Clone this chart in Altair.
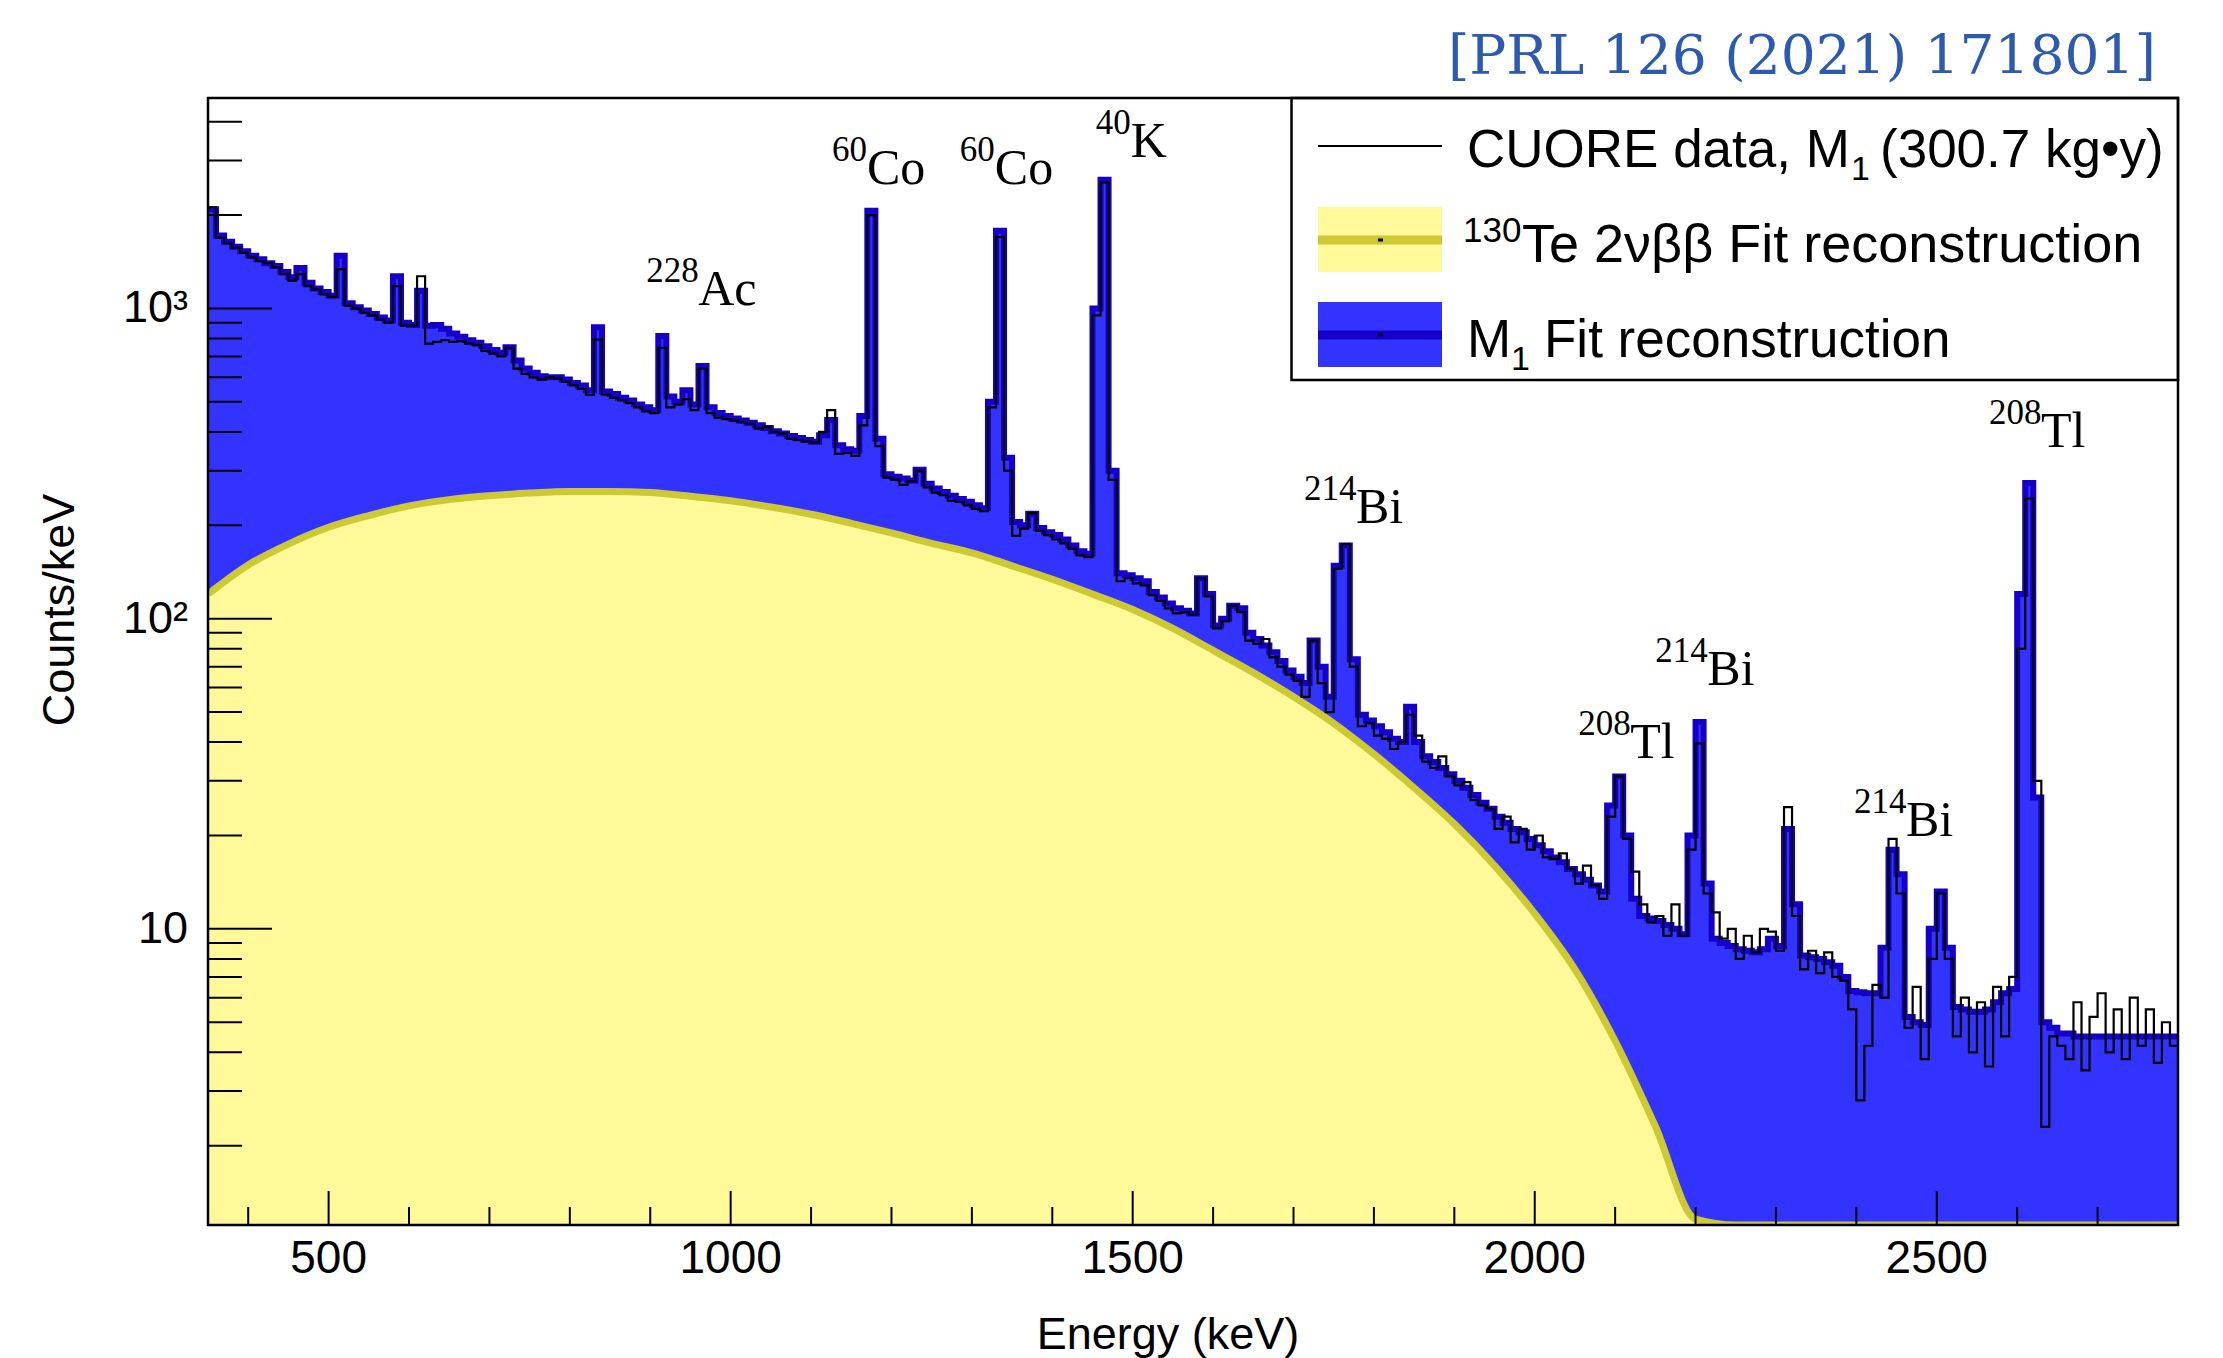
import altair as alt
import pandas as pd

# ---------------- data ----------------
# lower edges of 10 keV bins, 350 ... 2790 keV
bin_low_keV = list(range(350, 2800, 10))

fit_total = (
    [2090, 1720, 1640, 1580, 1530, 1480, 1440, 1400, 1370, 1310]
    + [1260, 1350, 1210, 1160, 1130, 1100, 1480, 1040, 1010, 985]
    + [960, 935, 915, 1270, 900, 885, 1140, 880, 885, 860]
    + [830, 810, 790, 775, 755, 735, 720, 750, 680, 640]
    + [620, 605, 600, 600, 590, 575, 565, 545, 870, 540]
    + [530, 515, 505, 490, 480, 470, 815, 520, 500, 545]
    + [490, 652, 480, 460, 450, 442, 435, 428, 420, 412]
    + [402, 395, 388, 382, 377, 372, 390, 437, 362, 352]
    + [348, 450, 2065, 380, 292, 287, 283, 279, 302, 272]
    + [263, 256, 249, 243, 238, 232, 227, 500, 1780, 330]
    + [205, 200, 218, 196, 190, 186, 180, 172, 165, 162]
    + [1000, 2600, 300, 140, 138, 135, 132, 122, 117, 112]
    + [108, 106, 104, 135, 120, 95, 100, 110, 108, 90]
    + [86, 82, 78, 73, 68, 65, 62, 85, 70, 56]
    + [148, 172, 74, 49, 47, 45, 43, 41, 40, 52]
    + [40, 36, 34.5, 33, 31.5, 30, 28.5, 27, 25.5, 24.4]
    + [23, 22, 21, 20.5, 19.5, 18.6, 17.8, 17, 16.4, 15.6]
    + [15, 14.4, 13.8, 13.2, 25, 31, 20, 12.5, 11, 10.8]
    + [10.6, 10.3, 10, 9.6, 20, 46.4, 14, 9.3, 9, 8.8]
    + [8.6, 8.5, 8.4, 8.6, 9.3, 8.8, 21, 12, 8.2, 8.1]
    + [8, 7.8, 7.6, 7, 6.3, 6.25, 6.2, 6.2, 8.7, 18]
    + [15, 5.2, 5, 4.9, 10, 13.2, 8.7, 5.6, 5.5, 5.4]
    + [5.4, 5.5, 5.8, 6.2, 6.4, 120, 274, 26.5, 5.0, 4.8]
    + [4.6, 4.6, 4.5, 4.5, 4.5, 4.5, 4.5, 4.5, 4.5, 4.5]
    + [4.5, 4.5, 4.5, 4.5, 4.5]
)

data_counts = (
    [2120, 1690, 1620, 1570, 1510, 1460, 1420, 1400, 1360, 1290]
    + [1230, 1290, 1180, 1150, 1110, 1090, 1340, 1020, 1000, 970]
    + [950, 920, 900, 1180, 880, 880, 1270, 770, 780, 790]
    + [780, 785, 770, 760, 730, 715, 700, 747, 640, 615]
    + [600, 590, 600, 595, 580, 565, 550, 527, 794, 527]
    + [515, 505, 495, 480, 466, 460, 747, 480, 490, 510]
    + [470, 640, 460, 445, 440, 435, 430, 425, 410, 415]
    + [400, 395, 380, 376, 372, 370, 400, 470, 340, 342]
    + [335, 420, 2000, 360, 285, 280, 270, 277, 300, 265]
    + [255, 250, 240, 238, 232, 226, 222, 480, 1700, 300]
    + [185, 195, 219, 192, 186, 180, 175, 168, 160, 158]
    + [950, 2550, 280, 132, 135, 130, 128, 119, 114, 108]
    + [104, 105, 103, 135, 118, 93, 98, 110, 105, 85]
    + [83, 86, 75, 70, 66, 63, 56, 85, 62, 50]
    + [145, 174, 70, 45, 46, 42, 41, 38, 40, 49]
    + [42, 34.6, 33, 36, 31, 29, 29.7, 26, 25, 24.4]
    + [21, 23, 19, 21, 18, 20, 17, 16.8, 17.5, 15.6]
    + [14, 16, 13.8, 12.5, 23, 31, 19.5, 15.3, 12, 10.5]
    + [11, 9.5, 12, 9.5, 18, 39.6, 13, 11.3, 9.3, 10]
    + [8, 9.5, 8.4, 10, 9.8, 8.5, 24.7, 11, 7.4, 8.5]
    + [7.2, 8.4, 7, 6.8, 5.5, 2.8, 4.2, 6.6, 6, 19.5]
    + [13, 4.8, 6.5, 3.8, 8, 13, 8, 4.5, 6, 4.0]
    + [5.8, 3.6, 6.5, 4.5, 7, 80, 244, 30, 2.3, 4.5]
    + [4.2, 3.8, 5.8, 3.5, 5.2, 6.2, 4.0, 5.5, 3.8, 6]
    + [4.2, 5.5, 3.7, 5, 4.2]
)

# 130Te 2nbb fit component (smooth)
tbb_keV = [350, 400, 450, 500, 550, 600, 650, 700, 750, 800, 850, 900, 950, 1000,
           1050, 1100, 1150, 1200, 1250, 1300, 1350, 1400, 1450, 1500, 1550, 1600,
           1650, 1700, 1750, 1800, 1850, 1900, 1950, 2000, 2050, 2100, 2150, 2200,
           2250, 2800]
tbb_counts = [120, 149, 174, 197, 215, 231, 242, 249, 254, 257, 257, 255, 248, 240,
              229, 217, 203, 189, 175, 163, 148, 134, 120, 107, 93, 79,
              67, 56, 46, 36.6, 28.5, 21.8, 16, 11.2, 7.4, 4.35, 2.31, 1.16,
              0.5, 0.5]

# peak annotations
peak_mass = ["228", "60", "60", "40", "214", "208", "214", "214", "208"]
peak_elem = ["Ac", "Co", "Co", "K", "Bi", "Tl", "Bi", "Bi", "Tl"]
peak_label_keV = [895, 1126, 1285, 1454, 1713, 2054, 2150, 2397, 2565]
peak_label_counts = [1026, 2518, 2518, 3076, 203, 35.6, 61, 19.9, 358]

# axis ticks and tick labels
y_major = [10, 100, 1000]
y_major_labels = ["10", "10\u00b2", "10\u00b3"]
y_minor = [2, 3, 4, 5, 6, 7, 8, 9, 20, 30, 40, 50, 60, 70, 80, 90,
           200, 300, 400, 500, 600, 700, 800, 900, 2000, 3000, 4000]
x_major = [500, 1000, 1500, 2000, 2500]
x_major_labels = ["500", "1000", "1500", "2000", "2500"]
x_minor = [400, 600, 700, 800, 900, 1100, 1200, 1300, 1400, 1600, 1700, 1800,
           1900, 2100, 2200, 2300, 2400, 2600, 2700]

legend_labels = ["CUORE data, M", "(300.7 kg\u2022y)",
                 "Te 2\u03bd\u03b2\u03b2 Fit reconstruction", "M", "Fit reconstruction"]

# ---------------- tables ----------------
hist = pd.DataFrame({
    "E": bin_low_keV + [2800],
    "fit": fit_total + [fit_total[-1]],
    "data": data_counts + [data_counts[-1]],
})
tbb = pd.DataFrame({"E": tbb_keV, "v": tbb_counts})
peaks = pd.DataFrame({"mass": peak_mass, "elem": peak_elem,
                      "E": peak_label_keV, "c": peak_label_counts})
ylab = pd.DataFrame({"v": y_major, "t": y_major_labels})
xlab = pd.DataFrame({"e": x_major, "t": x_major_labels})
one = pd.DataFrame({"k": [0]})

W, H = 1970, 1127
BLUE = "#3333FF"
DBLUE = "#1400C8"
YEL = "#FFF99A"
OLIVE = "#CCC933"

xs = alt.Scale(domain=[350, 2800], nice=False, zero=False)
ys = alt.Scale(type="log", domain=[1.11, 4770], nice=False, clamp=True)

X = lambda f: alt.X(f, scale=xs, axis=None)
Y = lambda f: alt.Y(f, scale=ys, axis=None)

blue_area = alt.Chart(hist).mark_area(interpolate="step-after", color=BLUE, clip=True).encode(
    x=X("E:Q"), y=Y("fit:Q"), y2=alt.value(H))
yellow_area = alt.Chart(tbb).mark_area(interpolate="monotone", color=YEL, clip=True).encode(
    x=X("E:Q"), y=Y("v:Q"), y2=alt.value(H))
olive_line = alt.Chart(tbb).mark_line(interpolate="monotone", color=OLIVE, strokeWidth=7,
                                      clip=True).encode(x=X("E:Q"), y=Y("v:Q"))
blue_line = alt.Chart(hist).mark_line(interpolate="step-after", color=DBLUE, strokeWidth=6,
                                      clip=True).encode(x=X("E:Q"), y=Y("fit:Q"))
data_line = alt.Chart(hist).mark_line(interpolate="step-after", color="black", strokeWidth=2.2,
                                      clip=True).encode(x=X("E:Q"), y=Y("data:Q"))

# inward ticks
ytick_major = alt.Chart(pd.DataFrame({"v": y_major})).mark_rule(color="black", strokeWidth=2).encode(
    y=Y("v:Q"), x=alt.value(0), x2=alt.value(64))
ytick_minor = alt.Chart(pd.DataFrame({"v": y_minor})).mark_rule(color="black", strokeWidth=2).encode(
    y=Y("v:Q"), x=alt.value(0), x2=alt.value(34))
xtick_major = alt.Chart(pd.DataFrame({"e": x_major})).mark_rule(color="black", strokeWidth=2).encode(
    x=X("e:Q"), y=alt.value(H), y2=alt.value(H - 34))
xtick_minor = alt.Chart(pd.DataFrame({"e": x_minor})).mark_rule(color="black", strokeWidth=2).encode(
    x=X("e:Q"), y=alt.value(H), y2=alt.value(H - 18))

# tick labels
ytext = alt.Chart(ylab).mark_text(font="Liberation Sans", fontSize=45, align="right",
                                  baseline="middle", color="black").encode(
    y=Y("v:Q"), x=alt.value(-20), text="t:N")
xtext = alt.Chart(xlab).mark_text(font="Liberation Sans", fontSize=46, align="center",
                                  baseline="middle", color="black").encode(
    x=X("e:Q"), y=alt.value(H + 34), text="t:N")

frame = alt.Chart(one).mark_rect(fillOpacity=0, stroke="black", strokeWidth=2.5).encode(
    x=alt.value(0), x2=alt.value(W), y=alt.value(0), y2=alt.value(H))

# peak labels
sup = alt.Chart(peaks).mark_text(font="Liberation Serif", fontSize=35, align="left",
                                 baseline="alphabetic", dy=-23, color="black").encode(
    x=X("E:Q"), y=Y("c:Q"), text="mass:N")
main3 = alt.Chart(peaks).transform_filter("length(datum.mass) == 3").mark_text(
    font="Liberation Serif", fontSize=50, align="left", baseline="alphabetic", dx=52,
    color="black").encode(x=X("E:Q"), y=Y("c:Q"), text="elem:N")
main2 = alt.Chart(peaks).transform_filter("length(datum.mass) == 2").mark_text(
    font="Liberation Serif", fontSize=50, align="left", baseline="alphabetic", dx=35,
    color="black").encode(x=X("E:Q"), y=Y("c:Q"), text="elem:N")


def txt(s, x, y, size, font="Liberation Sans", align="left", baseline="alphabetic",
        color="black", angle=0):
    return alt.Chart(one).mark_text(text=s, font=font, fontSize=size, align=align,
                                    baseline=baseline, color=color, angle=angle).encode(
        x=alt.value(x), y=alt.value(y))


def rect(x1, x2, y1, y2, fill, stroke=None, sw=0):
    kw = dict(fill=fill)
    if stroke:
        kw.update(stroke=stroke, strokeWidth=sw)
    return alt.Chart(one).mark_rect(**kw).encode(
        x=alt.value(x1), x2=alt.value(x2), y=alt.value(y1), y2=alt.value(y2))


def hline(x1, x2, y, color, sw):
    return alt.Chart(one).mark_rule(color=color, strokeWidth=sw).encode(
        x=alt.value(x1), x2=alt.value(x2), y=alt.value(y))


# legend
LX0, LX1 = 1110, 1234
TX = 1259
FS = 53
legend = [
    rect(1083.5, W, 0, 282, "white", "black", 2.5),
    hline(LX0, LX1, 48, "black", 2),
    txt(legend_labels[0], TX, 69, FS),
    txt("1", TX + 384, 82, 34),
    txt(legend_labels[1], TX + 413, 69, FS),
    rect(LX0, LX1, 109, 174, YEL),
    hline(LX0, LX1, 142, OLIVE, 9),
    hline(1170, 1175, 142, "black", 3),
    txt("130", 1255, 144, 35),
    txt(legend_labels[2], 1314, 164, 54),
    rect(LX0, LX1, 204, 269, BLUE),
    hline(LX0, LX1, 237, DBLUE, 9),
    hline(1170, 1175, 237, "black", 3),
    txt(legend_labels[3], TX, 259, FS),
    txt("1", TX + 44, 272, 34),
    txt(legend_labels[4], TX + 77, 259, FS),
]

titles = [
    txt("Energy (keV)", 960, 1237, 45, align="center", baseline="middle"),
    txt("Counts/keV", -148, 512, 45, align="center", baseline="middle", angle=270),
    txt("[PRL 126 (2021) 171801]", 1948, -24, 55, font="DejaVu Serif", align="right",
        color="#2B5AAF"),
]

chart = alt.layer(
    blue_area, yellow_area, olive_line, blue_line, data_line,
    ytick_major, ytick_minor, xtick_major, xtick_minor, ytext, xtext,
    sup, main3, main2,
    *legend, frame, *titles,
).properties(
    width=W, height=H,
    padding={"left": 208, "top": 98, "right": 45, "bottom": 133},
    autosize=alt.AutoSizeParams(type="none"),
    background="white",
).configure_view(strokeWidth=0)

chart.save("out.html", embed_options={"renderer": "svg", "actions": False})
